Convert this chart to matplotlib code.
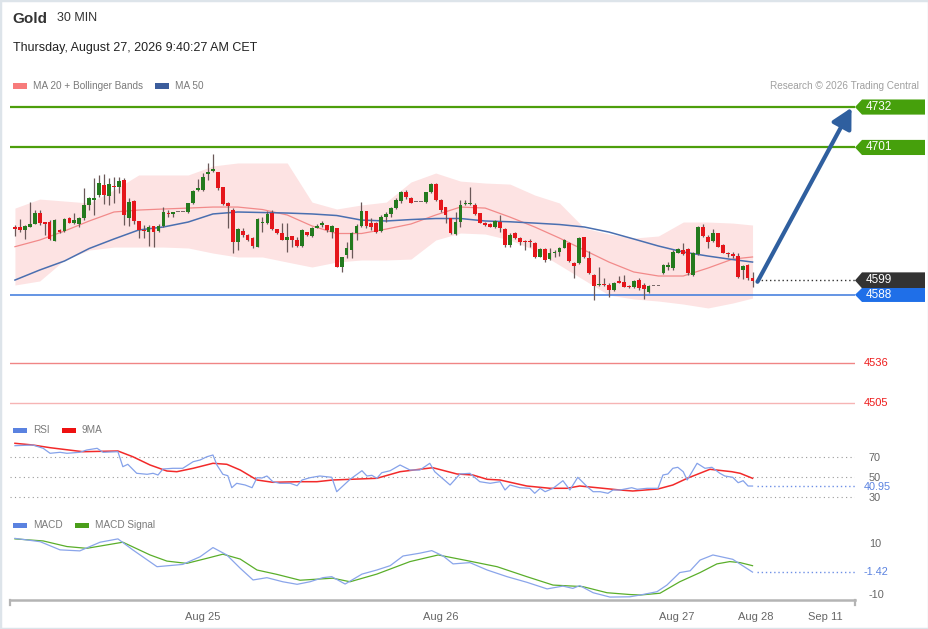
import numpy as np
import matplotlib
matplotlib.use('Agg')
import matplotlib.pyplot as plt
import matplotlib.transforms as mtransforms
from matplotlib.patches import Rectangle, Polygon

plt.rcParams['font.family'] = ['Liberation Sans', 'DejaVu Sans']

W, H = 929, 629

# ---- candles (30 min) ----
opens = [4640.2, 4640.2, 4637.6, 4639.7, 4642.2, 4650.4, 4644.0, 4643.5, 4629.4, 4637.6,
         4636.6, 4646.6, 4643.3, 4642.2, 4646.6, 4656.8, 4660.6, 4664.5, 4672.2, 4664.0,
         4671.4, 4670.9, 4676.0, 4646.6, 4659.9, 4644.5, 4637.6, 4636.4, 4640.7, 4636.9,
         4641.0, 4650.9, 4649.9, 4651.4, 4651.4, 4651.4, 4658.1, 4668.3, 4668.3, 4680.6,
         4682.9, 4682.4, 4670.4, 4658.6, 4653.0, 4628.7, 4637.1, 4633.8, 4631.2, 4624.8,
         4642.7, 4642.7, 4650.4, 4638.1, 4635.1, 4630.0, 4633.0, 4630.0, 4625.6, 4635.8,
         4633.0, 4639.4, 4641.2, 4641.5, 4636.4, 4639.4, 4609.5, 4618.5, 4622.3, 4635.1,
         4640.7, 4652.5, 4643.3, 4643.3, 4636.9, 4647.9, 4649.6, 4654.3, 4660.1, 4667.0,
         4662.4, 4658.9, 4658.9, 4658.9, 4666.5, 4672.9, 4660.6, 4655.0, 4646.6, 4634.6,
         4644.0, 4657.3, 4657.6, 4656.8, 4650.4, 4643.3, 4642.2, 4640.2, 4644.0, 4638.1,
         4626.1, 4635.1, 4631.2, 4629.4, 4629.4, 4627.9, 4617.2, 4622.8, 4615.1, 4619.7,
         4621.0, 4624.1, 4627.9, 4612.1, 4612.1, 4632.0, 4615.9, 4603.1, 4595.2, 4596.3,
         4595.5, 4591.7, 4598.6, 4597.5, 4594.7, 4593.7, 4599.3, 4595.5, 4590.4, 4594.7,
         4594.7, 4604.4, 4609.6, 4608.3, 4620.3, 4622.3, 4622.9, 4603.2, 4619.3, 4640.2,
         4632.6, 4629.5, 4635.1, 4626.2, 4620.3, 4619.3, 4617.7, 4607.0, 4610.8, 4601.1]
highs = [4641.5, 4645.8, 4641.5, 4659.4, 4653.0, 4653.0, 4644.0, 4645.3, 4645.8, 4638.1,
         4646.6, 4647.9, 4650.4, 4647.9, 4669.6, 4663.2, 4677.3, 4679.8, 4680.6, 4677.3,
         4678.5, 4678.5, 4677.3, 4661.9, 4660.6, 4644.5, 4641.5, 4641.5, 4640.7, 4642.2,
         4655.0, 4653.0, 4651.7, 4651.4, 4651.4, 4658.1, 4668.3, 4676.5, 4681.6, 4689.3,
         4695.9, 4682.4, 4670.4, 4659.4, 4654.3, 4638.9, 4638.9, 4634.6, 4632.5, 4647.1,
         4647.9, 4652.5, 4653.0, 4638.7, 4642.7, 4642.7, 4633.0, 4632.0, 4638.1, 4636.4,
         4640.2, 4642.2, 4644.8, 4641.5, 4641.5, 4639.4, 4617.2, 4628.7, 4636.4, 4642.2,
         4659.4, 4652.5, 4646.6, 4644.0, 4649.1, 4651.7, 4655.5, 4661.9, 4667.8, 4668.3,
         4663.2, 4658.9, 4658.9, 4667.0, 4673.4, 4673.4, 4661.2, 4655.5, 4647.1, 4651.7,
         4660.6, 4660.6, 4670.4, 4658.1, 4650.9, 4644.0, 4642.7, 4645.3, 4649.1, 4638.9,
         4635.1, 4636.4, 4632.5, 4630.0, 4630.5, 4628.7, 4623.6, 4623.6, 4623.6, 4622.3,
         4624.8, 4630.5, 4628.7, 4613.3, 4632.0, 4632.5, 4621.8, 4603.9, 4609.0, 4600.6,
         4597.3, 4598.1, 4602.4, 4603.2, 4595.2, 4599.3, 4600.6, 4596.8, 4595.5, 4594.7,
         4594.7, 4611.6, 4613.4, 4622.3, 4623.6, 4627.5, 4623.6, 4621.1, 4640.8, 4642.3,
         4633.9, 4638.2, 4635.6, 4626.7, 4621.1, 4621.1, 4619.8, 4610.8, 4611.4, 4605.7]
lows = [4633.0, 4636.4, 4630.5, 4639.7, 4642.2, 4641.5, 4633.8, 4630.0, 4629.4, 4635.6,
        4636.1, 4642.7, 4642.2, 4639.7, 4645.3, 4653.0, 4649.1, 4663.2, 4657.6, 4656.8,
        4658.1, 4665.8, 4641.5, 4640.7, 4642.2, 4631.2, 4631.2, 4625.4, 4624.8, 4636.4,
        4639.7, 4647.9, 4647.9, 4651.4, 4651.4, 4650.9, 4657.6, 4667.8, 4667.8, 4676.0,
        4682.4, 4668.3, 4656.8, 4638.9, 4619.7, 4622.3, 4632.5, 4629.4, 4624.1, 4624.3,
        4636.4, 4642.2, 4637.6, 4634.6, 4630.0, 4620.5, 4624.8, 4624.8, 4624.8, 4633.3,
        4632.5, 4638.9, 4640.2, 4636.4, 4631.2, 4609.0, 4605.7, 4615.9, 4615.9, 4630.0,
        4640.2, 4638.9, 4637.6, 4635.1, 4636.4, 4644.0, 4647.9, 4653.5, 4658.1, 4661.2,
        4658.1, 4658.9, 4658.9, 4658.1, 4666.3, 4660.1, 4651.7, 4642.7, 4634.3, 4633.8,
        4639.7, 4656.8, 4656.8, 4649.1, 4642.7, 4640.7, 4639.7, 4639.4, 4636.4, 4624.8,
        4624.8, 4630.5, 4626.1, 4622.3, 4624.3, 4615.9, 4616.7, 4613.3, 4614.6, 4616.7,
        4617.7, 4623.6, 4613.3, 4600.6, 4611.5, 4615.9, 4603.9, 4583.9, 4594.7, 4594.7,
        4586.5, 4591.1, 4596.8, 4593.7, 4593.2, 4592.9, 4591.7, 4584.5, 4589.6, 4594.7,
        4594.7, 4603.9, 4607.0, 4607.0, 4619.8, 4618.5, 4603.2, 4602.4, 4618.5, 4632.6,
        4623.6, 4628.7, 4624.4, 4619.8, 4617.2, 4616.0, 4600.6, 4599.8, 4599.3, 4593.7]
closes = [4638.7, 4637.6, 4640.7, 4642.2, 4650.4, 4642.7, 4642.2, 4630.5, 4645.3, 4636.1,
          4645.8, 4643.3, 4645.3, 4646.6, 4656.8, 4661.9, 4662.4, 4673.4, 4664.5, 4672.7,
          4670.4, 4675.5, 4649.1, 4658.9, 4644.5, 4637.6, 4636.9, 4640.2, 4636.4, 4641.0,
          4651.7, 4649.6, 4651.4, 4651.4, 4651.4, 4658.1, 4667.8, 4669.6, 4678.5, 4682.4,
          4684.4, 4669.6, 4657.3, 4656.3, 4628.7, 4638.1, 4633.8, 4630.0, 4625.4, 4646.1,
          4644.0, 4649.9, 4638.1, 4635.1, 4630.0, 4632.5, 4630.0, 4625.6, 4637.6, 4633.8,
          4639.4, 4641.0, 4642.7, 4637.6, 4640.7, 4609.5, 4616.7, 4623.6, 4635.1, 4640.7,
          4652.5, 4640.7, 4640.2, 4636.4, 4647.9, 4649.9, 4654.3, 4660.6, 4667.0, 4662.7,
          4658.6, 4658.9, 4658.9, 4666.5, 4672.9, 4660.6, 4653.0, 4649.1, 4635.1, 4644.0,
          4656.8, 4658.6, 4658.6, 4649.9, 4643.3, 4641.5, 4640.2, 4644.8, 4638.9, 4626.1,
          4633.8, 4631.2, 4628.7, 4628.7, 4628.7, 4616.7, 4622.8, 4614.6, 4620.2, 4621.0,
          4624.1, 4630.0, 4614.1, 4610.0, 4631.2, 4616.7, 4604.4, 4594.7, 4596.2, 4595.2,
          4591.7, 4597.3, 4597.3, 4594.2, 4593.7, 4598.6, 4592.9, 4592.2, 4594.7, 4594.7,
          4594.7, 4610.8, 4610.8, 4621.1, 4622.9, 4619.3, 4604.4, 4619.8, 4640.2, 4633.1,
          4628.7, 4635.1, 4624.9, 4620.3, 4619.3, 4617.7, 4601.9, 4610.1, 4600.6, 4598.8]

# ---- MA20 / Bollinger / MA50, sampled every 5 bars ----
band_idx = [0, 5, 10, 15, 20, 25, 30, 35, 40, 45, 50, 55, 60, 65, 70, 75,
            80, 85, 90, 95, 100, 105, 110, 115, 120, 125, 130, 135, 140, 145, 149]
bb_upper = [4654.5, 4661.4, 4659.9, 4658.4, 4668.4, 4679.9, 4679.9, 4679.9, 4686.8, 4689.1,
            4689.1, 4689.1, 4659.1, 4653.8, 4656.9, 4659.1, 4674.5, 4681.4, 4675.2, 4673.7,
            4672.9, 4664.5, 4658.4, 4639.2, 4634.6, 4631.5, 4633.1, 4643.8, 4643.8, 4643.0, 4641.5]
bb_lower = [4595.5, 4598.6, 4614.7, 4622.3, 4624.6, 4624.6, 4624.6, 4623.9, 4620.0, 4617.0,
            4617.0, 4613.1, 4609.3, 4613.1, 4614.7, 4614.7, 4615.4, 4630.0, 4635.4, 4634.6,
            4630.0, 4622.3, 4610.8, 4599.3, 4587.8, 4584.8, 4583.2, 4580.9, 4577.9, 4581.7, 4585.5]
ma20 = [4624.9, 4630.0, 4636.9, 4644.6, 4651.5, 4653.0, 4653.8, 4654.5, 4655.3, 4655.3,
        4653.4, 4649.2, 4640.8, 4635.0, 4635.0, 4638.4, 4642.3, 4649.2, 4655.3, 4654.5,
        4647.6, 4640.0, 4631.5, 4622.3, 4613.1, 4605.5, 4602.4, 4602.4, 4608.5, 4615.4, 4617.0]
ma50 = [4599.3, 4607.0, 4613.9, 4623.5, 4630.8, 4637.7, 4640.0, 4643.8, 4650.0, 4651.5,
        4651.1, 4650.7, 4650.0, 4648.8, 4645.3, 4644.6, 4645.7, 4646.5, 4646.5, 4644.6,
        4644.0, 4643.0, 4641.9, 4640.0, 4636.1, 4630.8, 4625.4, 4620.8, 4617.7, 4615.0, 4613.1]

# ---- RSI and its 9MA ----
rsi_idx = [0, 3.6, 5.7, 7.1, 9.1, 10.5, 13.1, 14.5, 16.6, 17.8, 20.8, 21.8, 22.8, 24.6, 26.7,
           27.9, 28.9, 29.9, 31.9, 33.9, 36, 37.4, 38.8, 40, 40.8, 42, 43, 43.8, 44.8, 46.5,
           47.9, 48.9, 49.9, 50.9, 52.1, 53.5, 55.6, 57, 58, 59.6, 61.6, 64, 65, 67.7, 70.1,
           71.1, 72.1, 73.1, 74.1, 75.8, 77.8, 79.8, 81.8, 83.8, 84.8, 87.9, 89.9, 91.9, 93.9,
           96, 98, 99, 100, 102, 104, 105, 106.1, 107.1, 108.7, 110.7, 112.1, 113.7, 115.6,
           116.8, 118.2, 119.8, 120.8, 122.2, 124.6, 125.7, 127.7, 129.9, 130.9, 131.9, 132.9,
           133.9, 135, 135.8, 137.8, 139.4, 140.8, 142.4, 143.4, 145, 146.1, 147.1, 148.1, 149]
rsi_val = [81.3, 82, 78.7, 73.7, 74.7, 73.7, 74.7, 77, 78.7, 74.7, 75.3, 60.3, 62.7, 53.7, 52.7,
           53.7, 52, 58, 58.7, 58.7, 65.3, 67, 70.3, 72, 62, 52.7, 51.3, 39.3, 43.7, 42,
           39.3, 49.3, 49, 51, 45.3, 43.7, 43.7, 41.3, 47, 49.3, 51, 49.7, 35.3, 47.7, 56.3,
           51, 51.7, 48.7, 54.3, 56.3, 62, 57, 57, 63.7, 55.3, 42, 53, 53.7, 45.3,
           43.7, 45.3, 37, 42, 39.3, 38.7, 33.7, 38.7, 35.3, 38.7, 46.3, 37, 49.7, 40.3,
           35.3, 35.3, 33.7, 37, 37, 39.3, 37.7, 38.7, 38.7, 52, 53, 58.7,
           59.7, 55.3, 47, 63.7, 58.7, 59.7, 53.7, 51, 49.7, 44.3, 46.3, 41, 40.95]
rsi_ma_idx = [0, 3.6, 7.1, 13.7, 20.8, 23.8, 27.3, 30.7, 32.7, 36, 40, 42.8, 45.5, 48.9, 52.1,
              57.6, 61, 64.2, 73.1, 77.8, 84.4, 89.3, 92.5, 95.4, 98, 103.4, 108.1, 111.5,
              114.1, 118.2, 122.2, 124.8, 129.9, 132.9, 135.8, 140.4, 144.8, 146.5, 149]
rsi_ma_val = [83.7, 82, 79.3, 75.3, 76, 70.3, 62, 56, 55.3, 58.7, 63.7, 62.7, 57, 47, 44.7,
              45.3, 45.3, 47, 48.7, 55.3, 59.3, 53, 52, 47.7, 47, 41, 38.7, 38.7,
              41, 39, 37, 36, 38, 42, 48.7, 57.7, 55.3, 53.7, 48.7]

# ---- MACD and signal ----
macd_idx = [0, 5.1, 9.1, 13.1, 17.2, 20.8, 23.8, 28.7, 33.9, 37.4, 40, 42.8, 45.5, 48.1, 50.9,
            54.1, 57, 59.6, 62.2, 64, 66.7, 70.1, 73.1, 75.8, 78.4, 81.8, 84.2, 86.5, 88.5,
            91.9, 95.4, 99.4, 103.4, 107.5, 110.7, 112.7, 114.1, 116.8, 120.2, 124.2, 126.3,
            129.7, 131.7, 134.3, 136.4, 138.4, 141, 145, 149]
macd_val = [11.8, 10.5, 7.3, 6.9, 10.3, 11.6, 7.3, 0.7, 1.6, 4.6, 8.2, 5.3, 0.1, -4.5, -3.6,
            -5.2, -6.2, -5.2, -3.6, -3.2, -6.1, -2.2, -0.6, 1.1, 4.9, 6.0, 7.0, 4.9, 1.8,
            2.3, -0.6, -3.2, -5.4, -8.0, -6.9, -7.8, -6.7, -9.5, -11.2, -11.1, -10.4,
            -9.1, -6.5, -1.6, -0.9, 3.3, 5.3, 3.6, -1.42]
sig_idx = [0, 5.7, 10.5, 14.5, 21.8, 27.3, 30.7, 34.7, 38.8, 42, 45.5, 48.9, 52.9, 57.6, 64.2,
           67.7, 73.1, 79.8, 85.5, 91.3, 97.4, 103.4, 108.7, 114.7, 119.6, 124.2, 126.3, 130.3,
           134.3, 138.4, 141.8, 144.4, 146.5, 149]
sig_val = [11.6, 10.8, 8.6, 7.9, 10.3, 5.3, 2.9, 2.0, 4.0, 5.6, 3.7, -0.6, -2.3, -4.6, -3.8,
           -5.2, -2.2, 2.7, 5.3, 3.1, 0.7, -3.2, -6.5, -7.1, -9.5, -10.2, -10.4, -9.7,
           -5.2, -1.6, 1.8, 2.7, 2.3, 1.1]

# ---- levels and axis labels ----
resistances = [4732, 4701]
supports = [4536, 4505]
support_colors = ['#f08585', '#f6b4b4']
pivot = 4588
last_price = 4599
target = 4732
rsi_last = 40.95
macd_last = -1.42
date_labels = ['Aug 25', 'Aug 26', 'Aug 27', 'Aug 28', 'Sep 11']
date_pos = [38, 86, 133.7, 149.7, 163.8]

XLIM = (-1.0, 169.7)


def box(x0, y0, x1, y1):
    # pixel box -> figure fraction rect
    return [x0 / W, 1 - y1 / H, (x1 - x0) / W, (y1 - y0) / H]


fig = plt.figure(figsize=(W / 100, H / 100), dpi=100)
fig.patch.set_facecolor('white')

ax = fig.add_axes(box(10, 97, 855, 415))
ax_rsi = fig.add_axes(box(10, 437, 855, 515), sharex=ax)
ax_macd = fig.add_axes(box(10, 532, 855, 600), sharex=ax)

for a in (ax, ax_rsi, ax_macd):
    a.set_facecolor('none')
    for s in a.spines.values():
        s.set_visible(False)
    a.tick_params(left=False, bottom=False, labelbottom=False, labelleft=False)

ax.set_xlim(*XLIM)
ax.set_ylim(4495.8, 4739.7)
ax.set_yticks([])

# Bollinger band + MAs
ax.fill_between(band_idx, bb_lower, bb_upper, color='#fde3e3', lw=0, zorder=1)
ax.plot(band_idx, ma20, color='#f28a8a', lw=0.9, zorder=2)
ax.plot(band_idx, ma50, color='#4a6fb0', lw=1.1, zorder=2)

# level lines
for r in resistances:
    ax.axhline(r, color='#4c9e0b', lw=1.6, zorder=2)
for s, sc in zip(supports, support_colors):
    ax.axhline(s, color=sc, lw=1.0, zorder=2)
ax.axhline(pivot, color='#3a78dc', lw=1.1, zorder=2)

# candles
idx = np.arange(len(closes))
o = np.array(opens)
c = np.array(closes)
hi = np.array(highs)
lo = np.array(lows)
up = c >= o
flat = np.abs(c - o) < 0.3
body_col = np.where(flat, '#7a6a6a', np.where(up, '#247a1e', '#e5161b'))
ax.vlines(idx, lo, hi, color='#6a5858', lw=0.9, zorder=3)
bottom = np.minimum(o, c)
height = np.maximum(np.abs(c - o), 0.7)
ax.bar(idx, height, bottom=bottom, width=0.76, color=body_col, lw=0, zorder=4)

# last price dotted line and forecast arrow
ax.hlines(last_price, idx[-1] + 1, XLIM[1], colors='#333333', linestyles=(0, (1, 2)), lw=1, zorder=2)
ax.annotate('', xy=(XLIM[1] - 0.7, target - 0.5), xytext=(idx[-1] + 1, closes[-1] - 0.8),
            arrowprops=dict(arrowstyle='-|>,head_length=0.6,head_width=0.32', color='#2f5f9f',
                            lw=3, shrinkA=0, shrinkB=0, mutation_scale=20), zorder=6)

# right-hand price tags
blend = mtransforms.blended_transform_factory(ax.transAxes, ax.transData)
AXW = 845.0


def tag(price, text, face, top=5.8, bot=5.8):
    x0, x1, x2 = 1.0, 1 + 7 / AXW, 1 + 70 / AXW
    verts = [(x0, price), (x1, price + top), (x2, price + top), (x2, price - bot), (x1, price - bot)]
    ax.add_patch(Polygon(verts, closed=True, transform=blend, clip_on=False,
                         facecolor=face, edgecolor='none', zorder=7))
    ax.text(1 + 11 / AXW, price, text, transform=blend, color='white', fontsize=8.5,
            va='center', ha='left', zorder=8, clip_on=False)


tag(resistances[0], str(resistances[0]), '#46a00c')
tag(resistances[1], str(resistances[1]), '#46a00c')
tag(last_price, str(last_price), '#333333', top=6.2, bot=6.0)
tag(pivot, str(pivot), '#1f6fe8', top=5.2, bot=5.5)
for s in supports:
    ax.text(1 + 9 / AXW, s, str(s), transform=blend, color='#ee1c1c', fontsize=8,
            va='center', ha='left', clip_on=False)

# RSI panel
ax_rsi.set_ylim(12, 90)
for lvl in (30, 50, 70):
    ax_rsi.axhline(lvl, color='#9a9a9a', lw=0.8, linestyle=(0, (1, 3)))
ax_rsi.plot(rsi_ma_idx, rsi_ma_val, color='#f22a2a', lw=1.1, zorder=3)
ax_rsi.plot(rsi_idx, rsi_val, color='#85a2ea', lw=0.9, zorder=4)
ax_rsi.hlines(rsi_last, rsi_idx[-1] + 1, XLIM[1], colors='#6f90e6', linestyles=(0, (1, 2)), lw=1)
ax_rsi.yaxis.tick_right()
ax_rsi.set_yticks([30, 50, 70])
ax_rsi.tick_params(axis='y', right=False, labelright=True, pad=6.5, labelsize=7.8, labelcolor='#666666')
blend_r = mtransforms.blended_transform_factory(ax_rsi.transAxes, ax_rsi.transData)
ax_rsi.text(1 + 9 / AXW, rsi_last - 0.6, f'{rsi_last:.2f}', transform=blend_r, color='#5a82e0',
            fontsize=7.8, va='center', ha='left')

# MACD panel
ax_macd.set_ylim(-12.35, 14.3)
ax_macd.plot(sig_idx, sig_val, color='#5aae2a', lw=0.9, zorder=3)
ax_macd.plot(macd_idx, macd_val, color='#8aa5ea', lw=0.9, zorder=4)
ax_macd.hlines(macd_last, macd_idx[-1] + 1, XLIM[1], colors='#6f90e6', linestyles=(0, (1, 2)), lw=1)
ax_macd.yaxis.tick_right()
ax_macd.set_yticks([-10, 10])
ax_macd.set_yticklabels(['-10', '10'])
ax_macd.tick_params(axis='y', right=False, labelright=True, pad=6.5, labelsize=7.8, labelcolor='#666666')
blend_m = mtransforms.blended_transform_factory(ax_macd.transAxes, ax_macd.transData)
ax_macd.text(1 + 9 / AXW, macd_last, f'{macd_last:.2f}', transform=blend_m, color='#5a82e0',
             fontsize=7.8, va='center', ha='left')

# x axis on bottom panel
ax_macd.spines['bottom'].set_visible(True)
ax_macd.spines['bottom'].set_color('#b4b4b4')
ax_macd.spines['bottom'].set_linewidth(1.8)
ax_macd.set_xticks(date_pos)
ax_macd.set_xticklabels(date_labels)
ax_macd.tick_params(axis='x', bottom=False, labelbottom=True, pad=5, labelsize=8, labelcolor='#666666')
for xe in (0, 1):
    ax_macd.plot([xe, xe], [0, -0.075], transform=ax_macd.transAxes, color='#b4b4b4',
                 lw=1.6, clip_on=False)


# header texts and legends
def ftext(x, y, s, **kw):
    fig.text(x / W, 1 - y / H, s, va='center', **kw)


def fpatch(x, y, color, w=14, h=5):
    fig.add_artist(Rectangle((x / W, 1 - (y + h / 2) / H), w / W, h / H,
                             transform=fig.transFigure, facecolor=color, edgecolor='none'))


ftext(12, 19, 'Gold', fontsize=11, fontweight='bold', color='#333333')
ftext(57, 18, '30 MIN', fontsize=9, color='#333333')
ftext(13, 48, 'Thursday, August 27, 2026 9:40:27 AM CET', fontsize=9, color='#222222')

fpatch(13, 86, '#f77b7b')
ftext(33, 86, 'MA 20 + Bollinger Bands', fontsize=7.2, color='#7a7a7a')
fpatch(155, 86, '#3c5d9c')
ftext(175, 86, 'MA 50', fontsize=7.2, color='#7a7a7a')
ftext(919, 86, 'Research \u00a9 2026 Trading Central', fontsize=7.2, color='#a0a0a0', ha='right')

fpatch(13, 430, '#5a82e0')
ftext(33, 430, 'RSI', fontsize=7.2, color='#7a7a7a')
fpatch(62, 430, '#ee1111')
ftext(82, 430, '9MA', fontsize=7.2, color='#7a7a7a')

fpatch(13, 525, '#5a82e0')
ftext(33, 525, 'MACD', fontsize=7.2, color='#7a7a7a')
fpatch(75, 525, '#4a9e1a')
ftext(95, 525, 'MACD Signal', fontsize=7.2, color='#7a7a7a')

# light frame
fig.add_artist(Rectangle((0, 0), 1, 1, transform=fig.transFigure, fill=False,
                         edgecolor='#dde4ea', lw=2.5))

fig.savefig('out.png', dpi=100)
